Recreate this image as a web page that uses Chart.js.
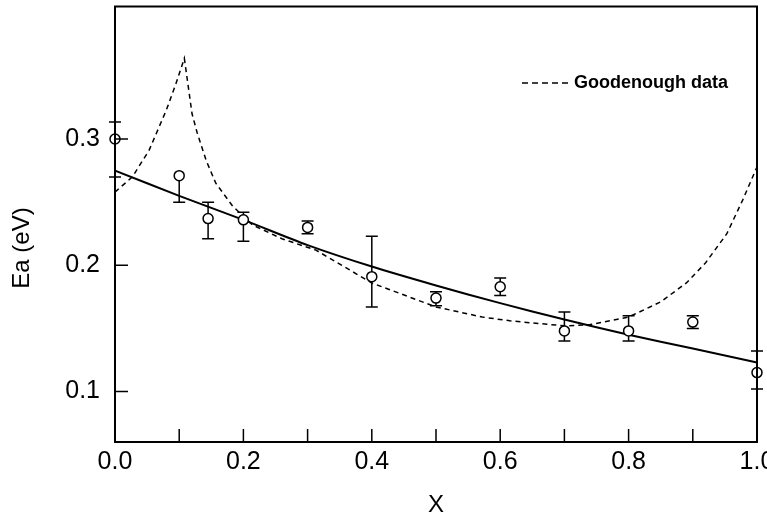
<!DOCTYPE html>
<html lang="en">
<head>
    <meta charset="UTF-8">
    <title>Ea vs X</title>
    <script src="https://cdn.jsdelivr.net/npm/chart.js"></script>
    <style>
        body { margin: 0; background: #fff; }
        .chart-wrapper { width: 767px; height: 518px; position: relative; }
    </style>
</head>
<body>
    <div class="chart-wrapper">
        <canvas id="eaChart"></canvas>
    </div>

    <script>
        // measured points with error bars
        const xValues = [0, 0.1, 0.145, 0.2, 0.3, 0.4, 0.5, 0.6, 0.7, 0.8, 0.9, 1.0];
        const eaValues = [0.300, 0.271, 0.237, 0.236, 0.230, 0.191, 0.174, 0.183, 0.148, 0.148, 0.155, 0.115];
        const errLow = [0.270, 0.250, 0.221, 0.219, 0.225, 0.167, 0.168, 0.176, 0.140, 0.140, 0.150, 0.102];
        const errHigh = [0.3135, 0.271, 0.250, 0.242, 0.235, 0.223, 0.179, 0.190, 0.163, 0.160, 0.160, 0.132];

        // solid fitted line
        const fitX = [0, 0.1, 0.2, 0.3, 0.4, 0.5, 0.6, 0.7, 0.8, 0.9, 1.0];
        const fitY = [0.275, 0.255, 0.236, 0.216, 0.199, 0.184, 0.170, 0.157, 0.145, 0.134, 0.123];

        // Goodenough data (dashed)
        const gX = [0, 0.027, 0.053, 0.08, 0.095, 0.108, 0.12, 0.128, 0.142, 0.157, 0.183, 0.214, 0.26, 0.313, 0.4, 0.5, 0.572, 0.615, 0.7, 0.74, 0.8, 0.85, 0.89, 0.92, 0.953, 0.978, 1.0];
        const gY = [0.258, 0.270, 0.291, 0.323, 0.344, 0.364, 0.320, 0.305, 0.283, 0.265, 0.247, 0.232, 0.221, 0.212, 0.186, 0.167, 0.159, 0.156, 0.152, 0.153, 0.159, 0.171, 0.186, 0.202, 0.225, 0.252, 0.278];

        const xTickLabels = [0, 0.2, 0.4, 0.6, 0.8, 1.0];
        const xTickMarks = [0.1, 0.2, 0.3, 0.4, 0.5, 0.6, 0.7, 0.8, 0.9];
        const yTickLabels = [0.1, 0.2, 0.3];

        const zip = (xs, ys) => xs.map((x, i) => ({ x: x, y: ys[i] }));

        const decorPlugin = {
            id: 'decor',
            beforeDatasetsDraw(chart) {
                const ctx = chart.ctx;
                const xs = chart.scales.x, ys = chart.scales.y;
                ctx.save();
                ctx.strokeStyle = '#000';
                ctx.lineWidth = 1.5;
                xValues.forEach((x, i) => {
                    const px = xs.getPixelForValue(x);
                    const top = ys.getPixelForValue(errHigh[i]);
                    const bot = ys.getPixelForValue(errLow[i]);
                    ctx.beginPath();
                    ctx.moveTo(px, top);
                    ctx.lineTo(px, bot);
                    if (errHigh[i] > eaValues[i]) {
                        ctx.moveTo(px - 6, top);
                        ctx.lineTo(px + 6, top);
                    }
                    ctx.moveTo(px - 6, bot);
                    ctx.lineTo(px + 6, bot);
                    ctx.stroke();
                });
                ctx.restore();
            },
            afterDraw(chart) {
                const ctx = chart.ctx;
                const a = chart.chartArea;
                const xs = chart.scales.x, ys = chart.scales.y;
                ctx.save();
                ctx.strokeStyle = '#000';
                ctx.lineWidth = 2;
                ctx.strokeRect(a.left, a.top, a.right - a.left, a.bottom - a.top);

                // inward tick marks
                ctx.lineWidth = 1.5;
                ctx.beginPath();
                xTickMarks.forEach(v => {
                    const px = xs.getPixelForValue(v);
                    ctx.moveTo(px, a.bottom);
                    ctx.lineTo(px, a.bottom - 13);
                });
                yTickLabels.forEach(v => {
                    const py = ys.getPixelForValue(v);
                    ctx.moveTo(a.left, py);
                    ctx.lineTo(a.left + 13, py);
                });
                ctx.stroke();

                // legend
                ctx.setLineDash([6, 4]);
                ctx.beginPath();
                ctx.moveTo(522, 83);
                ctx.lineTo(572, 83);
                ctx.stroke();
                ctx.setLineDash([]);
                ctx.fillStyle = '#000';
                ctx.font = 'bold 18px "Liberation Sans"';
                ctx.textAlign = 'left';
                ctx.textBaseline = 'middle';
                ctx.fillText('Goodenough data', 574, 83);

                // axis titles
                ctx.font = '24px "Liberation Sans"';
                ctx.textAlign = 'center';
                ctx.fillText('X', (a.left + a.right) / 2, 505);
                ctx.translate(22, 248);
                ctx.rotate(-Math.PI / 2);
                ctx.fillText('Ea (eV)', 0, 0);
                ctx.restore();
            }
        };

        const ctx = document.getElementById('eaChart').getContext('2d');
        new Chart(ctx, {
            type: 'scatter',
            data: {
                datasets: [
                    {
                        label: 'Measured',
                        data: zip(xValues, eaValues),
                        pointStyle: 'circle',
                        pointRadius: 5,
                        pointBackgroundColor: '#fff',
                        pointBorderColor: '#000',
                        pointBorderWidth: 1.5,
                        showLine: false,
                        clip: false
                    },
                    {
                        label: 'Fit',
                        data: zip(fitX, fitY),
                        showLine: true,
                        borderColor: '#000',
                        borderWidth: 2,
                        pointRadius: 0,
                        tension: 0.3,
                        clip: false
                    },
                    {
                        label: 'Goodenough data',
                        data: zip(gX, gY),
                        showLine: true,
                        borderColor: '#000',
                        borderWidth: 1.5,
                        borderDash: [5, 4],
                        pointRadius: 0,
                        tension: 0,
                        clip: false
                    }
                ]
            },
            options: {
                responsive: true,
                maintainAspectRatio: false,
                animation: false,
                layout: { padding: { left: 0, right: 10, top: 6, bottom: 0 } },
                plugins: {
                    legend: { display: false },
                    tooltip: { enabled: false }
                },
                scales: {
                    x: {
                        type: 'linear',
                        min: 0,
                        max: 1,
                        grid: { display: false, drawTicks: false },
                        border: { display: false },
                        afterBuildTicks: s => { s.ticks = xTickLabels.map(v => ({ value: v })); },
                        afterFit: s => { s.height = 76; s.paddingLeft = 0; s.paddingRight = 0; },
                        ticks: {
                            padding: 5,
                            color: '#000',
                            font: { family: 'Liberation Sans', size: 25 },
                            maxRotation: 0,
                            callback: v => v.toFixed(1)
                        }
                    },
                    y: {
                        type: 'linear',
                        min: 0.06,
                        max: 0.405,
                        grid: { display: false, drawTicks: false },
                        border: { display: false },
                        afterBuildTicks: s => { s.ticks = yTickLabels.map(v => ({ value: v })); },
                        afterFit: s => { s.width = 115; s.paddingTop = 0; s.paddingBottom = 0; },
                        ticks: {
                            padding: 15,
                            color: '#000',
                            font: { family: 'Liberation Sans', size: 25 },
                            callback: v => v.toFixed(1)
                        }
                    }
                }
            },
            plugins: [decorPlugin]
        });
    </script>
</body>
</html>
